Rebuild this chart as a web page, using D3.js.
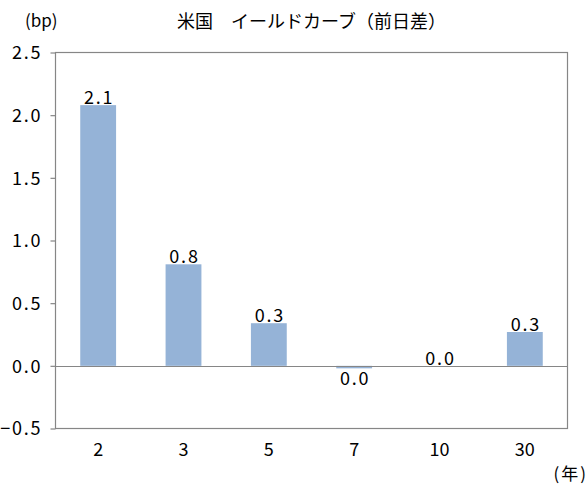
<!DOCTYPE html>
<html><head><meta charset="utf-8">
<script src="https://cdn.jsdelivr.net/npm/d3@7"></script>
<style>
html,body{margin:0;padding:0;background:#fff;}
text{font-family:"Noto Sans CJK JP","Noto Sans",sans-serif;fill:#000;}
</style></head>
<body><svg id="c" width="588" height="492"></svg>
<script>
const categories = ["2","3","5","7","10","30"];
const values = [2.08, 0.81, 0.34, -0.02, 0.0, 0.27];
const yTicks = [-0.5, 0.0, 0.5, 1.0, 1.5, 2.0, 2.5];
const titleText = "米国　イールドカーブ（前日差）";
const yUnit = "(bp)";
const xUnit = "(年)";

const svg = d3.select("#c");
const L = 55.5, R = 567.5, T = 52.5, B = 428.5;
const x = d3.scaleBand().domain(categories).range([L, R]).paddingInner(0.58).paddingOuter(0.29);
const y = d3.scaleLinear().domain([-0.5, 2.5]).range([B, T]);
const grey = "#868686";
const fmt = d3.format(".1f");
const FS = 18, LS = 1.8;

// bars
svg.append("g").selectAll("rect").data(values).join("rect")
  .attr("x", (d,i) => x(categories[i]))
  .attr("width", x.bandwidth())
  .attr("y", d => y(Math.max(d,0)))
  .attr("height", d => Math.abs(y(d) - y(0)))
  .attr("fill", "#95B3D7");

// zero line
svg.append("line").attr("x1", L).attr("x2", R).attr("y1", Math.round(y(0))+0.5).attr("y2", Math.round(y(0))+0.5)
  .attr("stroke", grey).attr("stroke-width", 1.2);

// frame
svg.append("rect").attr("x", L).attr("y", T).attr("width", R-L).attr("height", B-T)
  .attr("fill", "none").attr("stroke", grey).attr("stroke-width", 1.2);

// y axis
const yAxis = d3.axisLeft(y).tickValues(yTicks).tickSize(5).tickPadding(10 - LS).tickFormat(fmt);
const ga = svg.append("g").attr("transform", `translate(${L},0)`).call(yAxis);
ga.select(".domain").remove();
ga.selectAll(".tick line").attr("stroke", grey).attr("stroke-width", 1.2);
ga.selectAll(".tick text").attr("font-size", FS).attr("letter-spacing", LS + "px")
  .attr("font-family", '"Noto Sans CJK JP",sans-serif').attr("fill", "#000").attr("dy", "0.35em");

// x axis
const xAxis = d3.axisBottom(x).tickSize(0).tickPadding(15);
const gx = svg.append("g").attr("transform", `translate(0,${B})`).call(xAxis);
gx.select(".domain").remove();
gx.selectAll(".tick text").attr("font-size", FS)
  .attr("font-family", '"Noto Sans CJK JP",sans-serif').attr("fill", "#000");

// data labels
svg.append("g").selectAll("text").data(values).join("text")
  .attr("x", (d,i) => x(categories[i]) + x.bandwidth()/2 + 1)
  .attr("y", d => d < 0 ? y(d) + 17 : y(d) - 1)
  .attr("text-anchor", "middle")
  .attr("font-size", FS).attr("letter-spacing", LS + "px")
  .text(d => fmt(Math.abs(d) < 0.05 ? 0 : d));

// title & units
svg.append("text").attr("x", (L+R)/2).attr("y", 28).attr("text-anchor", "middle")
  .attr("font-size", 18).text(titleText);
svg.append("text").attr("x", 25).attr("y", 27).attr("font-size", 17).text(yUnit);
svg.append("text").attr("x", 588).attr("y", 480).attr("text-anchor", "end").attr("font-size", 17)
  .attr("letter-spacing", "2px").text(xUnit);
</script></body></html>
